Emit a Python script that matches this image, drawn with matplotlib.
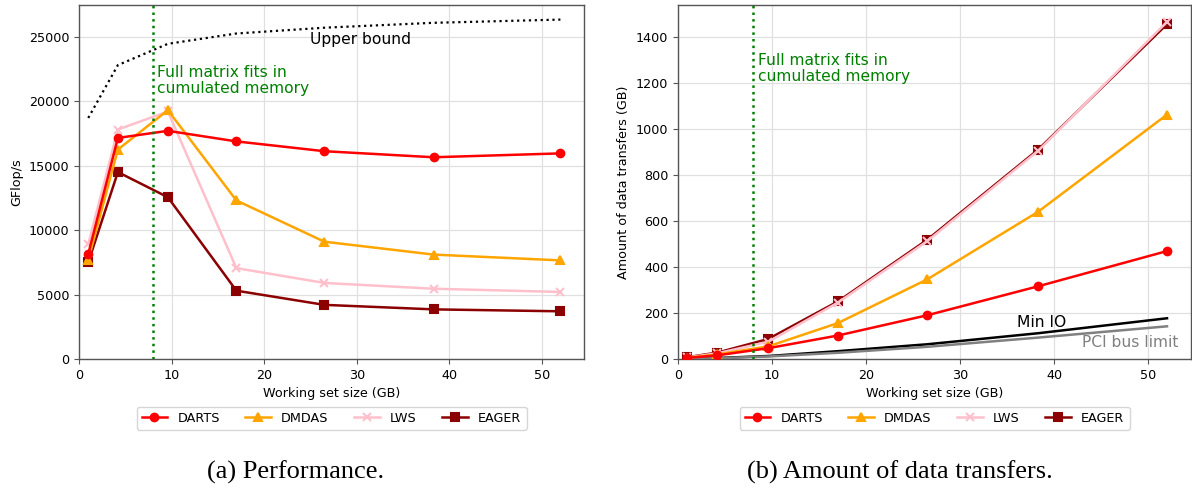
import matplotlib
matplotlib.use("Agg")
import matplotlib.pyplot as plt

# ---------------- data ----------------
working_set = [1.0, 4.2, 9.6, 17.0, 26.5, 38.3, 52.0]

perf_darts = [8150, 17150, 17700, 16880, 16120, 15650, 15950]
perf_dmdas = [7700, 16250, 19300, 12300, 9100, 8100, 7650]
perf_lws = [8900, 17800, 19200, 7050, 5900, 5450, 5200]
perf_eager = [7500, 14500, 12550, 5300, 4200, 3850, 3700]
perf_upper = [18700, 22800, 24450, 25250, 25700, 26080, 26330]

xfer_darts = [5, 16, 47, 102, 190, 316, 469]
xfer_dmdas = [5, 20, 55, 156, 346, 640, 1062]
xfer_lws = [7, 25, 75, 245, 512, 905, 1465]
xfer_eager = [8, 28, 87, 250, 518, 910, 1455]
xfer_minio = [1, 4.5, 13, 34, 64, 112, 177]
xfer_pci = [1, 3.5, 11, 27, 53, 93, 142]

series_names = ["DARTS", "DMDAS", "LWS", "EAGER"]
series_colors = ["red", "orange", "pink", "darkred"]
series_markers = ["o", "^", "x", "s"]
memory_limit = 8

fs = 9.2
plt.rcParams["font.family"] = ["DejaVu Sans"]
plt.rcParams["font.size"] = fs

fig = plt.figure(figsize=(11.92, 4.91), dpi=100)
axL = fig.add_axes([79 / 1192, 132 / 491, 505 / 1192, 354 / 491])
axR = fig.add_axes([678 / 1192, 132 / 491, 513 / 1192, 354 / 491])

zorders = [6, 5, 4, 3]


def style(ax):
    ax.grid(True, color="#e0e0e0", linewidth=0.9, zorder=0)
    ax.set_axisbelow(True)
    for s in ax.spines.values():
        s.set_color("#555555")
        s.set_linewidth(1.0)
    ax.tick_params(colors="#555555", labelcolor="black", labelsize=fs, length=3.5)
    ax.set_xlabel("Working set size (GB)", fontsize=fs)


# -------- left: performance --------
perf = [perf_darts, perf_dmdas, perf_lws, perf_eager]
for name, vals, c, m, z in zip(series_names, perf, series_colors, series_markers, zorders):
    axL.plot(working_set, vals, color=c, marker=m, lw=1.8, ms=5.5, mew=1.5,
             label=name, zorder=z)
axL.plot(working_set, perf_upper, color="black", ls=":", lw=1.6, zorder=3)
axL.autoscale()
axL.set_xlim(left=0)
axL.set_ylim(bottom=0)
axL.axvline(memory_limit, color="green", ls=":", lw=1.8, zorder=7)
axL.text(8.4, 21600, "Full matrix fits in\ncumulated memory", color="green",
         fontsize=11.2, va="center", ha="left", linespacing=1.1)
axL.text(24.9, 24800, "Upper bound", color="black", fontsize=11.2,
         va="center", ha="left")
axL.set_ylabel("GFlop/s", fontsize=fs)
axL.set_yticks([0, 5000, 10000, 15000, 20000, 25000])
style(axL)
axL.legend(loc="center", bbox_to_anchor=(0.5, -0.167), ncol=4, fontsize=fs,
           frameon=True, columnspacing=2.0, handlelength=2.0)

# -------- right: data transfers --------
xfer = [xfer_darts, xfer_dmdas, xfer_lws, xfer_eager]
for name, vals, c, m, z in zip(series_names, xfer, series_colors, series_markers, zorders):
    axR.plot(working_set, vals, color=c, marker=m, lw=1.8, ms=5.5, mew=1.5,
             label=name, zorder=z)
axR.plot(working_set, xfer_minio, color="black", lw=1.8, zorder=3)
axR.plot(working_set, xfer_pci, color="gray", lw=1.8, zorder=3)
axR.autoscale()
axR.set_xlim(left=0)
axR.set_ylim(bottom=0)
axR.axvline(memory_limit, color="green", ls=":", lw=1.8, zorder=7)
axR.text(8.5, 1264, "Full matrix fits in\ncumulated memory", color="green",
         fontsize=11.2, va="center", ha="left", linespacing=1.1)
axR.text(36.0, 159, "Min IO", color="black", fontsize=11.2, va="center", ha="left")
axR.text(43.0, 73, "PCI bus limit", color="gray", fontsize=11.2, va="center", ha="left")
axR.set_ylabel("Amount of data transfers (GB)", fontsize=fs)
axR.set_yticks([0, 200, 400, 600, 800, 1000, 1200, 1400])
style(axR)
axR.legend(loc="center", bbox_to_anchor=(0.5, -0.167), ncol=4, fontsize=fs,
           frameon=True, columnspacing=2.0, handlelength=2.0)

# -------- captions --------
fig.text(296 / 1192, 1 - 472 / 491, "(a) Performance.", family="Liberation Serif",
         fontsize=19, ha="center", va="center")
fig.text(900 / 1192, 1 - 472 / 491, "(b) Amount of data transfers.",
         family="Liberation Serif", fontsize=19, ha="center", va="center")

fig.savefig("out.png", dpi=100)
